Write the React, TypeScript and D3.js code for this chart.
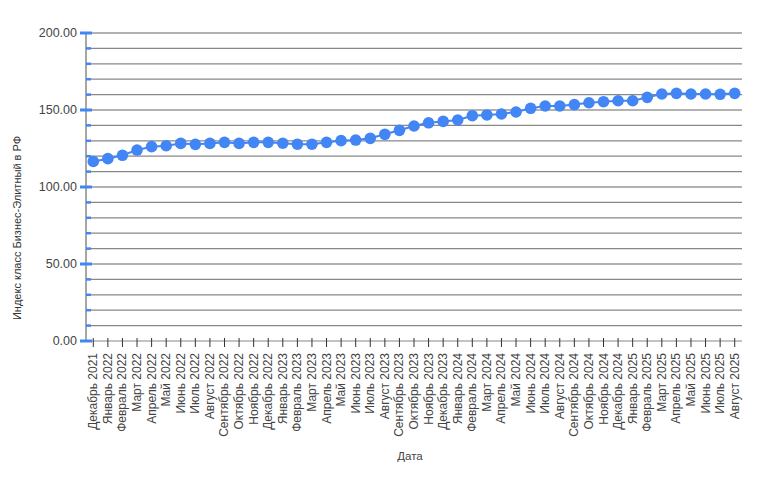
import React from "react";
import * as d3 from "d3";

const categories: string[] = [
  "Декабрь 2021",
  "Январь 2022","Февраль 2022","Март 2022","Апрель 2022","Май 2022","Июнь 2022","Июль 2022","Август 2022","Сентябрь 2022","Октябрь 2022","Ноябрь 2022","Декабрь 2022",
  "Январь 2023","Февраль 2023","Март 2023","Апрель 2023","Май 2023","Июнь 2023","Июль 2023","Август 2023","Сентябрь 2023","Октябрь 2023","Ноябрь 2023","Декабрь 2023",
  "Январь 2024","Февраль 2024","Март 2024","Апрель 2024","Май 2024","Июнь 2024","Июль 2024","Август 2024","Сентябрь 2024","Октябрь 2024","Ноябрь 2024","Декабрь 2024",
  "Январь 2025","Февраль 2025","Март 2025","Апрель 2025","Май 2025","Июнь 2025","Июль 2025","Август 2025",
];

const values: number[] = [
  116.6, 118.4, 120.6, 124.0, 126.2, 126.8, 128.3, 127.7, 128.3, 129.0,
  128.3, 129.0, 129.0, 128.4, 127.8, 127.8, 129.0, 130.1, 130.5, 131.6,
  134.2, 136.8, 139.6, 141.7, 142.6, 143.5, 146.3, 146.8, 147.4, 148.7,
  151.1, 152.6, 152.6, 153.5, 154.7, 155.4, 156.0, 156.0, 158.2, 160.4,
  160.8, 160.4, 160.4, 160.2, 160.8,
];

const majorTicks = [0, 50, 100, 150, 200];
const gridTicks = d3.range(0, 201, 10);

const W = 761, H = 482;
const M = { left: 86, right: 742, top: 33, bottom: 341 };
const BLUE = "#4285F4";

export default function App() {
  const x = d3.scaleBand<string>().domain(categories).range([M.left, M.right]);
  const y = d3.scaleLinear().domain([0, 200]).range([M.bottom, M.top]);
  const cx = (c: string) => (x(c) ?? 0) + x.bandwidth() / 2;
  const line = d3.line<number>().x((_, i) => cx(categories[i])).y((v) => y(v));
  const font = "Arial, 'Liberation Sans', sans-serif";

  return (
    <svg width={W} height={H} style={{ position: "absolute", left: 0, top: 0, background: "#fff" }} fontFamily={font}>
      {gridTicks.filter(t => t > 0).map((t) => (
        <line key={"g" + t} x1={M.left} x2={M.right} y1={y(t)} y2={y(t)} stroke={t % 50 === 0 ? "#666" : "#888"} strokeWidth={1.2} />
      ))}
      <line x1={M.left} x2={M.right} y1={M.bottom} y2={M.bottom} stroke="#888" strokeWidth={1.2} />
      <line x1={M.left} x2={M.left} y1={M.top} y2={M.bottom} stroke="#888" strokeWidth={1.5} />
      {categories.map((c) => (
        <line key={"xt" + c} x1={cx(c)} x2={cx(c)} y1={M.bottom - 3} y2={M.bottom + 6} stroke="#333" strokeWidth={1} />
      ))}
      {gridTicks.map((t) => (
        majorTicks.includes(t) ? (
          <line key={"mt" + t} x1={M.left - 6} x2={M.left + 6} y1={y(t)} y2={y(t)} stroke={BLUE} strokeWidth={3} />
        ) : (
          <line key={"nt" + t} x1={M.left} x2={M.left + 5} y1={y(t)} y2={y(t)} stroke={BLUE} strokeWidth={2.5} />
        )
      ))}
      {majorTicks.map((t) => (
        <text key={"yl" + t} x={M.left - 9} y={y(t)} dy="0.35em" textAnchor="end" fontSize={12.5} fill="#444">
          {t.toFixed(2)}
        </text>
      ))}
      {categories.map((c) => (
        <text key={"xl" + c} transform={`translate(${cx(c) + 4},${M.bottom + 12}) rotate(-90)`} textAnchor="end" fontSize={12} fill="#444">
          {c}
        </text>
      ))}
      <path d={line(values) ?? ""} fill="none" stroke={BLUE} strokeWidth={2} />
      {values.map((v, i) => (
        <circle key={"p" + i} cx={cx(categories[i])} cy={y(v)} r={5.8} fill={BLUE} />
      ))}
      <text transform={`translate(${21},${228}) rotate(-90)`} textAnchor="middle" fontSize={11} fill="#333">
        Индекс класс Бизнес-Элитный в РФ
      </text>
      <text x={410} y={460} textAnchor="middle" fontSize={11.5} fill="#444">Дата</text>
    </svg>
  );
}
